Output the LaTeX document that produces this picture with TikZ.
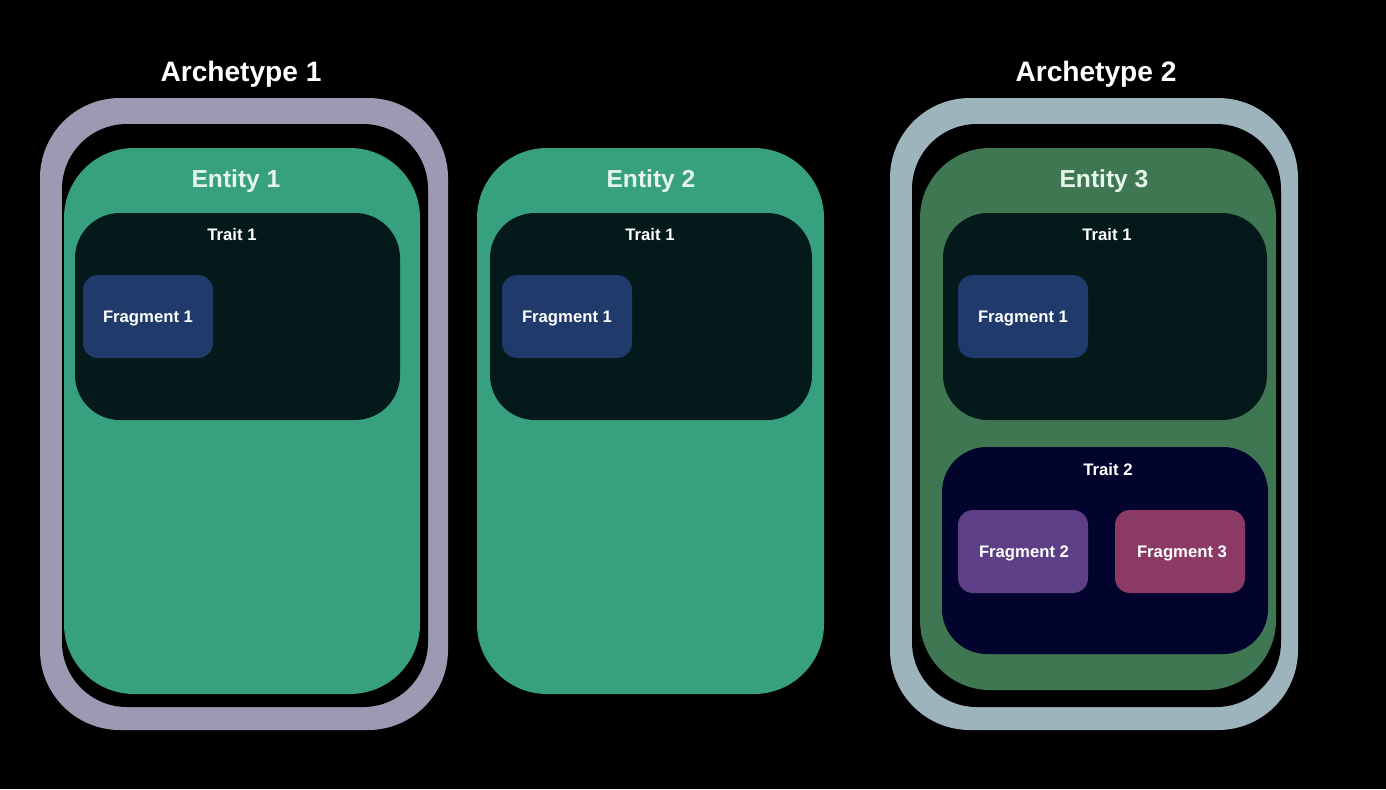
\documentclass[tikz,border=0pt]{standalone}
\usepackage{fontspec}
\setmainfont{Liberation Sans}
\definecolor{ringlav}{HTML}{9C9AB3}
\definecolor{ringblue}{HTML}{9DB4BD}
\definecolor{entitygreen}{HTML}{37A07F}
\definecolor{entitydark}{HTML}{3F7753}
\definecolor{entitytext}{HTML}{E6F5EA}
\definecolor{traitdark}{HTML}{041A1A}
\definecolor{traitnavy}{HTML}{03042E}
\definecolor{fragblue}{HTML}{1F3A6B}
\definecolor{fragpurple}{HTML}{5C3F87}
\definecolor{fragrose}{HTML}{8B3A66}
\begin{document}
\begin{tikzpicture}
	[x=0.02cm,y=-0.02cm,
	 shell/.style={rounded corners=1.6cm},
	 entitybox/.style={fill=entitygreen,rounded corners=1.4cm},
	 traitbox/.style={fill=traitdark,rounded corners=0.9cm},
	 fragbox/.style={fill=fragblue,rounded corners=0.3cm},
	 archlabel/.style={anchor=base,text=white,font=\bfseries\fontsize{16}{19}\selectfont},
	 entitylabel/.style={anchor=base,text=entitytext,font=\bfseries\fontsize{14}{17}\selectfont},
	 smalllabel/.style={anchor=base,text=white,font=\bfseries\fontsize{9.5}{11}\selectfont}]
\fill[black] (0,0) rectangle (1386,789);
% archetype frames
\fill[shell,ringlav] (40,98) rectangle (448,730);
\fill[black,rounded corners=1.3cm] (62,124) rectangle (428,707);
\fill[shell,ringblue] (890,98) rectangle (1298,730);
\fill[black,rounded corners=1.3cm] (912,124) rectangle (1281,707);
\node[archlabel] (arch1) at (241,81) {Archetype 1};
\node[archlabel] (arch2) at (1096,81) {Archetype 2};
% entities
\fill[entitybox] (64,148) rectangle (420,694);
\fill[entitybox] (477,148) rectangle (824,694);
\fill[entitybox,fill=entitydark] (920,148) rectangle (1276,690);
\node[entitylabel] (ent1) at (236,187) {Entity 1};
\node[entitylabel] (ent2) at (651,187) {Entity 2};
\node[entitylabel] (ent3) at (1104,187) {Entity 3};
% trait 1 with fragment 1, once per entity
\foreach \tl/\tr/\tx/\fl/\n in {75/400/232/83/a,490/812/650/502/b,943/1267/1107/958/c}
{
\fill[traitbox] (\tl,213) rectangle (\tr,420);
\node[smalllabel] (trait-\n) at (\tx,240) {Trait 1};
\fill[fragbox] (\fl,275) rectangle ({\fl+130},358);
\node[smalllabel] (frag-\n) at ({\fl+65},322) {Fragment 1};
}
% trait 2
\fill[traitbox,fill=traitnavy] (942,447) rectangle (1268,654);
\node[smalllabel] (trait2) at (1108,475) {Trait 2};
\fill[fragbox,fill=fragpurple] (958,510) rectangle (1088,593);
\fill[fragbox,fill=fragrose] (1115,510) rectangle (1245,593);
\node[smalllabel] (frag2) at (1024,557) {Fragment 2};
\node[smalllabel] (frag3) at (1182,557) {Fragment 3};
\end{tikzpicture}
\end{document}
